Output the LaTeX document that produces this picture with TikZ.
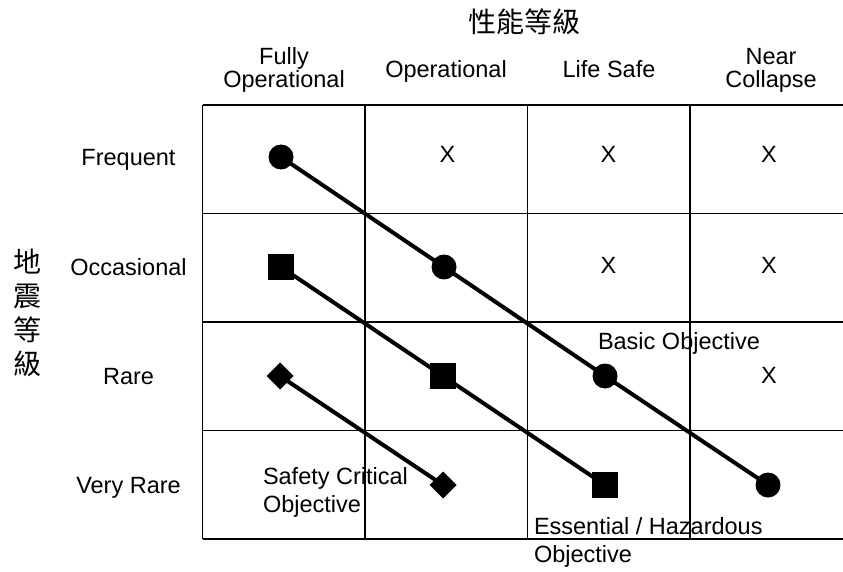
\documentclass[tikz,border=0pt]{standalone}
\usepackage{fontspec}
\setmainfont{Liberation Sans}
\newfontfamily\cjkfont{Noto Sans CJK TC}
\usetikzlibrary{shapes.geometric}

\begin{document}
\begin{tikzpicture}[x=1pt,y=-1pt,
    every node/.style={inner sep=0pt, outer sep=0pt},
    header text/.style={font=\fontsize{23.5}{23.5}\selectfont, align=center, anchor=base},
    row text/.style={font=\fontsize{23.5}{23.5}\selectfont, anchor=base},
    cross mark/.style={font=\fontsize{23.5}{23.5}\selectfont, anchor=base},
    note text/.style={font=\fontsize{23.5}{28}\selectfont, align=left, anchor=base west},
    cjk text/.style={font=\fontsize{28}{34}\selectfont\cjkfont},
    gridline/.style={line width=1.5pt, black},
    objline/.style={line width=4pt, black},
    dotmark/.style={circle, fill=black, minimum size=25pt},
    boxmark/.style={rectangle, fill=black, minimum size=26pt},
    gemmark/.style={diamond, fill=black, minimum width=27pt, minimum height=27pt},
  ]
  \useasboundingbox (0,0) rectangle (843,572);

  % matrix grid (right edge runs off the page)
  \foreach \y in {105,213.5,322,430.5,539}
    \draw[gridline] (202.5,\y) -- (843,\y);
  \foreach \x in {202.5,365,527.5,690}
    \draw[gridline] (\x,105) -- (\x,539);

  % axis titles
  \node[cjk text] (perf) at (524,22) {性能等級};
  \node[cjk text, align=center] (quake) at (27,313) {地\\震\\等\\級};

  % performance levels (base anchor sits on the last line)
  \node[header text] (hFO) at (284,88) {Fully\\Operational};
  \node[header text] (hOP) at (446,78) {Operational};
  \node[header text] (hLS) at (609,78) {Life Safe};
  \node[header text] (hNC) at (771,88) {Near\\Collapse};

  % earthquake levels
  \node[row text] (rF) at (128.5,166) {Frequent};
  \node[row text] (rO) at (128.5,275) {Occasional};
  \node[row text] (rR) at (128.5,384) {Rare};
  \node[row text] (rV) at (128.5,493) {Very Rare};

  % unacceptable combinations
  \node[cross mark] (x12) at (447.5,163) {X};
  \node[cross mark] (x13) at (608.5,163) {X};
  \node[cross mark] (x14) at (769,163) {X};
  \node[cross mark] (x23) at (608.5,273) {X};
  \node[cross mark] (x24) at (769,273) {X};
  \node[cross mark] (x34) at (769,383) {X};

  % basic objective
  \node[dotmark] (b1) at (281,157) {};
  \node[dotmark] (b2) at (444,267) {};
  \node[dotmark] (b3) at (605,376) {};
  \node[dotmark] (b4) at (768,485) {};
  \draw[objline] (b1.center) -- (b2.center) -- (b3.center) -- (b4.center);

  % essential / hazardous objective
  \node[boxmark] (e1) at (281,267) {};
  \node[boxmark] (e2) at (443,376) {};
  \node[boxmark] (e3) at (605,485) {};
  \draw[objline] (e1.center) -- (e2.center) -- (e3.center);

  % safety critical objective
  \node[gemmark] (s1) at (280,376) {};
  \node[gemmark] (s2) at (443,485) {};
  \draw[objline] (s1.center) -- (s2.center);

  % objective labels
  \node[note text] (lB) at (598,349) {Basic Objective};
  \node[note text] (lS) at (263,512) {Safety Critical\\Objective};
  \node[note text] (lE) at (534,562) {Essential / Hazardous\\Objective};
\end{tikzpicture}
\end{document}
